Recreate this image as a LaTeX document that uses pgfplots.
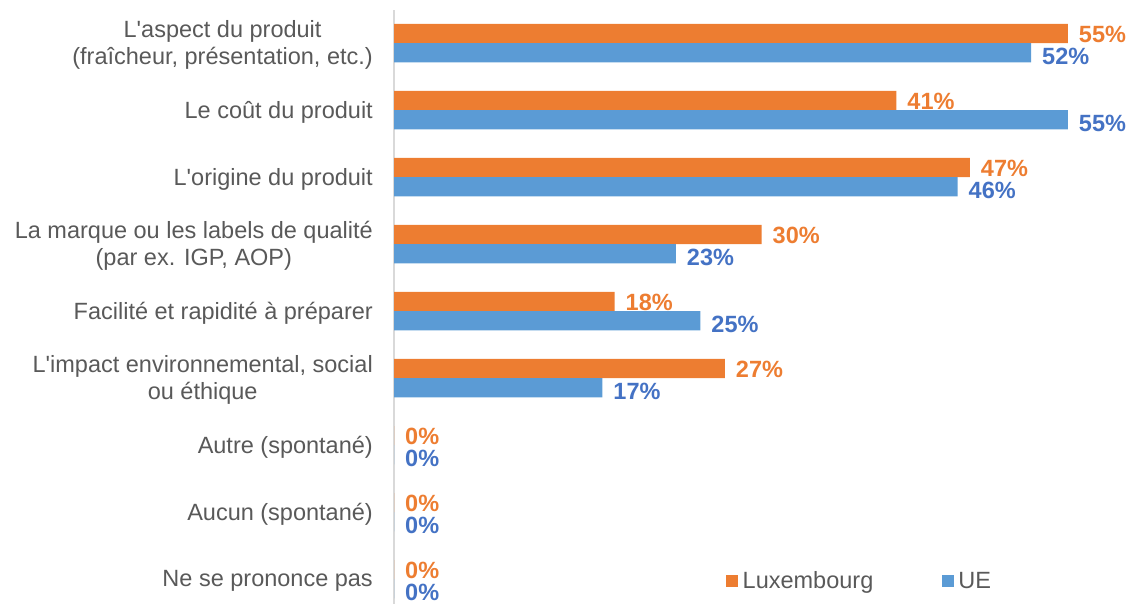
\documentclass[border=0pt]{standalone}
\usepackage{pgfplots}
\pgfplotsset{compat=1.18}
\usepackage{fontspec}
\setmainfont{Liberation Sans}
\definecolor{lux}{HTML}{ED7D31}
\definecolor{ue}{HTML}{5B9BD5}
\definecolor{uelab}{HTML}{4472C4}
\definecolor{txt}{HTML}{595959}
\newcommand{\fs}{\fontsize{23.5}{27}\selectfont}
\begin{document}
\begin{tikzpicture}
\path[use as bounding box] (0,0) rectangle (1129pt,604pt);
\begin{axis}[
  at={(394pt,0pt)}, anchor=south west,
  scale only axis, width=735pt, height=594pt,
  xmin=0, xmax=60, ymin=-0.37, ymax=8.4955,
  xbar, bar width=19.2pt,
  hide x axis,
  axis y line*=left,
  y axis line style={draw=black!15, line width=1.5pt},
  ytick={0,...,8},
  yticklabels={Ne se prononce pas, Aucun (spontané), Autre (spontané),
    {L\textquotesingle impact environnemental, social\\ou éthique},
    Facilité et rapidité à préparer,
    {La marque ou les labels de qualité\\(par ex. IGP, AOP)},
    L\textquotesingle origine du produit,
    Le coût du produit,
    {L\textquotesingle aspect du produit\\(fraîcheur, présentation, etc.)}},
  yticklabel style={align=center, font=\fs, text=txt, inner sep=0pt, xshift=-21pt, yshift=-2pt},
  major tick length=0pt,
  ytick style={draw=none},
  point meta=x,
  /pgf/number format/assume math mode=true,
  nodes near coords={\pgfmathprintnumber{\pgfplotspointmeta}\%},
  every node near coord/.append style={font=\bfseries\fs, anchor=west, inner xsep=11pt, inner ysep=0pt},
  legend style={at={(0.4517,0.0387)}, anchor=west, draw=none, fill=none, inner sep=0pt,
    font=\fs, text=txt, legend columns=2,
    nodes={inner xsep=4.5pt, inner ysep=0pt},
    /tikz/every even column/.append style={column sep=64pt}},
  legend image code/.code={\fill[#1] (0pt,-6pt) rectangle (12pt,6pt);},
  clip=false,
]
\addplot[fill=lux, draw=none, bar shift=9.6pt, every node near coord/.append style={text=lux, yshift=-0.5pt}]
  coordinates {(55,8) (41,7) (47,6) (30,5) (18,4) (27,3) (0,2) (0,1) (0,0)};
\addplot[fill=ue, draw=none, bar shift=-9.6pt, every node near coord/.append style={text=uelab, yshift=-3.5pt}]
  coordinates {(52,8) (55,7) (46,6) (23,5) (25,4) (17,3) (0,2) (0,1) (0,0)};
\legend{Luxembourg, UE}
\end{axis}
\end{tikzpicture}
\end{document}
